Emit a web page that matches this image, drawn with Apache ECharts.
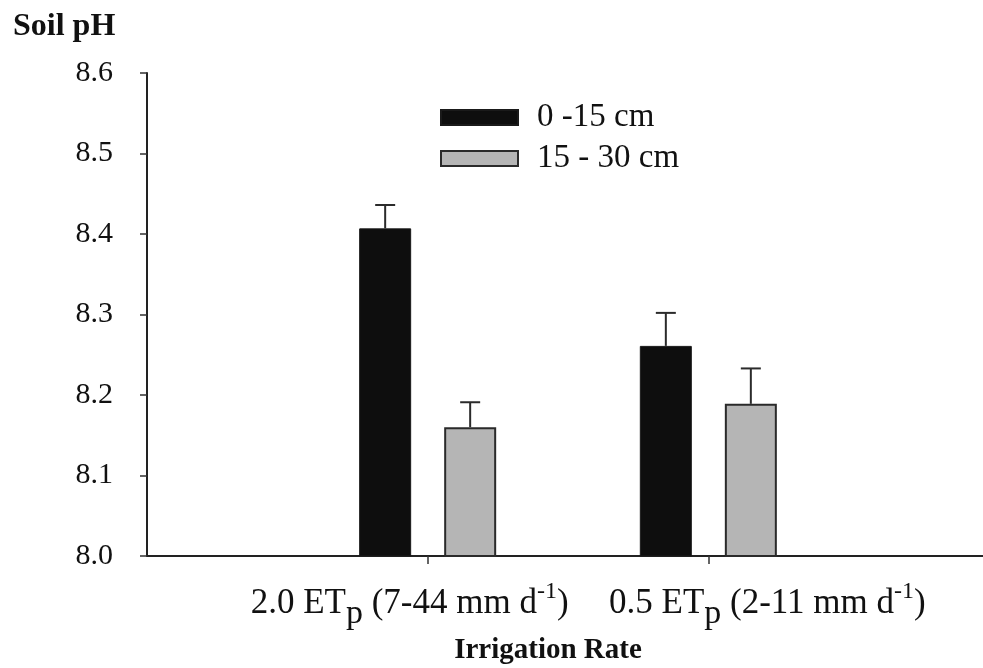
<!DOCTYPE html>
<html>
<head>
<meta charset="utf-8">
<script src="https://cdn.jsdelivr.net/npm/echarts@6/dist/echarts.min.js"></script>
<style>html,body{margin:0;padding:0;background:#fff}#c{width:983px;height:668px}</style>
</head>
<body>
<div id="c"></div>
<script>
// ---- data ----
const categories = ['', '2.0 ET{sub|p} (7-44 mm d{sup|-1})', '0.5 ET{sub|p} (2-11 mm d{sup|-1})', ''];
const seriesNames = ['0 -15 cm', '15 - 30 cm'];
const shallow = [null, 8.407, 8.261, null];
const deep = [null, 8.160, 8.189, null];
const shallowErr = [null, 0.029, 0.041, null];
const deepErr = [null, 0.031, 0.044, null];
const yTicks = [8.0, 8.1, 8.2, 8.3, 8.4, 8.5, 8.6];

// ---- style ----
const FONT = '"Liberation Serif", "Times New Roman", serif';
const BAR_W = 52, GAP_PX = 33;
const OFFSET = (BAR_W + GAP_PX) / 2;
const labelShift = [0, -18, 59, 0];

const chart = echarts.init(document.getElementById('c'), null, {renderer: 'canvas'});

function errSeries(vals, errs, dir) {
  return {
    type: 'custom',
    silent: true,
    z: 5,
    data: vals.map((v, i) => v == null ? [i, null, null] : [i, v, v + errs[i]]),
    renderItem: function (params, api) {
      const v = api.value(1);
      if (v == null || isNaN(v)) return;
      const i = api.value(0);
      const p0 = api.coord([i, v]);
      const p1 = api.coord([i, api.value(2)]);
      const x = p0[0] + dir * OFFSET;
      const st = {stroke: '#2b2b2b', lineWidth: 2};
      return {
        type: 'group',
        children: [
          {type: 'line', shape: {x1: x, y1: p0[1], x2: x, y2: p1[1]}, style: st},
          {type: 'line', shape: {x1: x - 10, y1: p1[1], x2: x + 10, y2: p1[1]}, style: st}
        ]
      };
    }
  };
}

chart.setOption({
  animation: false,
  backgroundColor: '#ffffff',
  title: [
    {text: 'Soil pH', left: 8, top: 6, textStyle: {fontFamily: FONT, fontSize: 32, fontWeight: 'bold', color: '#111'}},
    {text: 'Irrigation Rate', left: 543, top: 631, textAlign: 'center', textStyle: {fontFamily: FONT, fontSize: 29, fontWeight: 'bold', color: '#111'}}
  ],
  legend: {
    data: seriesNames,
    orient: 'vertical',
    left: 435,
    top: 96,
    itemWidth: 77,
    itemHeight: 15,
    itemGap: 8,
    icon: 'rect',
    textStyle: {fontFamily: FONT, fontSize: 33, color: '#111', padding: [0, 0, 0, 14]}
  },
  grid: {left: 147, width: 842, top: 73, bottom: 112, containLabel: false, outerBoundsMode: 'none'},
  xAxis: {
    type: 'category',
    data: categories,
    boundaryGap: false,
    axisLine: {lineStyle: {color: '#222', width: 2}},
    axisTick: {
      show: true, inside: false, length: 8,
      interval: function (idx) { return idx === 1 || idx === 2; },
      lineStyle: {color: '#333', width: 1.5}
    },
    splitLine: {show: false},
    axisLabel: {
      interval: 0,
      margin: 23,
      formatter: function (val, idx) {
        if (!val) return '';
        const s = labelShift[idx];
        return s < 0 ? val + '{sp|}' : '{sq|}' + val;
      },
      fontFamily: FONT, fontSize: 35, color: '#111', lineHeight: 50,
      rich: {
        sub: {fontFamily: FONT, fontSize: 34, color: '#111', padding: [21, 0, 0, 0]},
        sup: {fontFamily: FONT, fontSize: 24, color: '#111', padding: [0, 0, 25, 0]},
        sp: {width: 36},
        sq: {width: 118}
      }
    }
  },
  yAxis: {
    type: 'value',
    min: 8.0,
    max: 8.6,
    interval: 0.1,
    axisLine: {show: true, lineStyle: {color: '#222', width: 2}},
    axisTick: {show: true, inside: false, length: 7, lineStyle: {color: '#333', width: 1.5}},
    splitLine: {show: false},
    axisLabel: {
      margin: 34,
      fontFamily: FONT, fontSize: 30, color: '#111',
      formatter: function (v) { return v.toFixed(1); }
    }
  },
  series: [
    {
      name: seriesNames[0], type: 'bar', data: shallow,
      barWidth: BAR_W, barGap: (GAP_PX / BAR_W * 100).toFixed(1) + '%',
      itemStyle: {color: '#0e0e0e', borderColor: '#1a1a1a', borderWidth: 1}
    },
    {
      name: seriesNames[1], type: 'bar', data: deep,
      barWidth: BAR_W,
      itemStyle: {color: '#b5b5b5', borderColor: '#2a2a2a', borderWidth: 2}
    },
    errSeries(shallow, shallowErr, -1),
    errSeries(deep, deepErr, 1)
  ]
});
</script>
</body>
</html>
